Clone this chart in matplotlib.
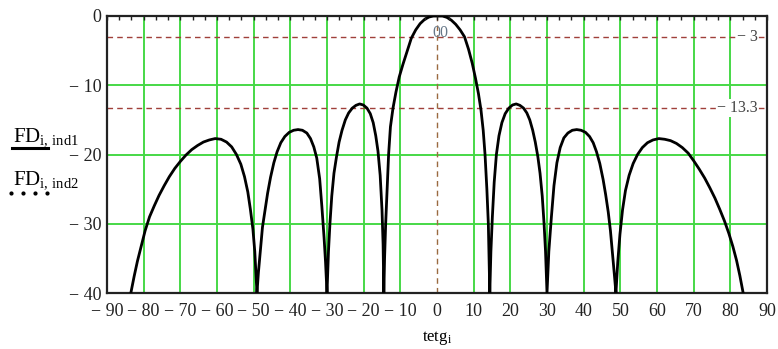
import matplotlib
matplotlib.use("Agg")
import matplotlib.pyplot as plt
import numpy as np

plt.rcParams['font.family'] = ['Liberation Serif', 'DejaVu Serif']
plt.rcParams['mathtext.fontset'] = 'custom'
plt.rcParams['mathtext.rm'] = 'Liberation Serif'
plt.rcParams['mathtext.it'] = 'Liberation Serif'

# pattern, lobe by lobe (angle in deg, level in dB)
tetg = [-83.5, -82.6, -81.7, -80.7, -79.6, -78.4, -77.1, -75.8, -74.4, -73.0,
        -71.5, -70.0, -68.5, -66.9, -65.3, -63.7, -62.1, -60.5, -58.9, -57.4,
        -56.0, -54.7, -53.5, -52.5, -51.6, -50.9, -50.2, -49.7, -49.1,
        -48.7, -48.2, -47.6, -46.9, -46.2, -45.4, -44.5, -43.6, -42.6, -41.5,
        -40.3, -39.1, -37.9, -36.7, -35.5, -34.5, -33.6, -32.8, -32.0, -31.4,
        -30.8, -30.4, -30.0,
        -29.6, -29.2, -28.7, -28.1, -27.4, -26.7, -25.9, -25.0, -24.1, -23.1,
        -22.1, -21.1, -20.1, -19.1, -18.2, -17.4, -16.7, -16.1, -15.5, -15.0,
        -14.7, -14.5,
        -14.3, -14.0, -13.6, -13.2, -12.7, -12.0, -11.2, -10.3, -9.3, -8.2,
        -7.0, -5.8, -4.6, -3.4, -2.2, -1.0, 0.3, 1.5, 2.7, 3.9,
        5.1, 6.3, 7.5, 8.6, 9.6, 10.5, 11.3, 12.0, 12.6, 13.1,
        13.6, 14.0, 14.2, 14.4,
        14.7, 15.1, 15.6, 16.2, 16.9, 17.7, 18.6, 19.6, 20.6, 21.6,
        22.6, 23.6, 24.5, 25.3, 26.1, 26.8, 27.5, 28.1, 28.7, 29.2,
        29.6, 30.0,
        30.5, 31.2, 31.9, 32.7, 33.6, 34.6, 35.7, 36.9, 38.1, 39.3,
        40.5, 41.6, 42.6, 43.5, 44.4, 45.3, 46.0, 46.7, 47.3, 47.9,
        48.4, 48.8,
        49.3, 49.9, 50.6, 51.4, 52.4, 53.5, 54.7, 56.0, 57.4, 58.9,
        60.5, 62.1, 63.7, 65.3, 66.9, 68.5, 70.0, 71.5, 73.0, 74.4,
        75.8, 77.1, 78.4, 79.6, 80.7, 81.7, 82.6, 83.5]
fd1 = [-40, -37.6, -35.4, -33.3, -31.0, -29.0, -27.4, -25.9, -24.5, -23.2,
       -22.0, -21.0, -20.1, -19.3, -18.7, -18.2, -17.9, -17.7, -17.8, -18.2,
       -18.9, -20.0, -21.4, -23.2, -25.4, -27.9, -30.8, -34.0, -40,
       -37.0, -34.0, -30.5, -28.0, -25.6, -23.3, -21.2, -19.6, -18.3, -17.4,
       -16.8, -16.5, -16.4, -16.5, -16.9, -17.7, -18.9, -20.5, -23.5, -27.5,
       -32.0, -35.5, -40,
       -34.0, -30.0, -26.0, -22.7, -20.3, -18.2, -16.5, -15.0, -14.0, -13.3,
       -12.9, -12.7, -12.85, -13.3, -14.1, -15.4, -17.3, -19.5, -23.0, -28.0,
       -33.0, -40,
       -35.0, -30.0, -25.0, -20.0, -16.0, -13.3, -11.0, -8.8, -7.0, -5.2,
       -3.2, -2.0, -1.1, -0.5, -0.15, 0.0, 0.0, 0.0, -0.2, -0.6,
       -1.2, -2.0, -3.0, -4.8, -6.8, -9.0, -11.2, -13.6, -16.5, -20.0,
       -25.0, -30.0, -35.0, -40,
       -34.0, -29.0, -24.0, -20.0, -17.3, -15.4, -14.1, -13.3, -12.85, -12.7,
       -12.9, -13.3, -14.0, -15.0, -16.5, -18.2, -20.3, -22.7, -26.0, -30.0,
       -34.0, -40,
       -34.0, -29.0, -24.5, -21.2, -19.0, -17.6, -16.9, -16.5, -16.4, -16.5,
       -16.8, -17.4, -18.3, -19.6, -21.3, -23.6, -25.8, -28.3, -31.0, -34.5,
       -37.5, -40,
       -35.5, -31.5, -28.0, -25.2, -23.0, -21.3, -20.0, -19.0, -18.3, -17.9,
       -17.7, -17.8, -18.0, -18.4, -19.0, -19.8, -20.9, -22.1, -23.4, -24.8,
       -26.3, -27.9, -29.6, -31.4, -33.3, -35.3, -37.5, -40]

x_ticks = [-90, -80, -70, -60, -50, -40, -30, -20, -10, 0, 10, 20, 30, 40, 50, 60, 70, 80, 90]
x_labels = ["− 90", "− 80", "− 70", "− 60", "− 50", "− 40", "− 30", "− 20", "− 10",
            "0", "10", "20", "30", "40", "50", "60", "70", "80", "90"]
y_ticks = [0, -10, -20, -30, -40]
y_labels = ["0", "− 10", "− 20", "− 30", "− 40"]
h_markers = [-3, -13.3]
h_marker_labels = ["− 3", "− 13.3"]
v_marker = 0

W, H = 778, 349
fig = plt.figure(figsize=(W / 100, H / 100), dpi=100)
ax = fig.add_axes([107 / W, 1 - 293 / H, 660 / W, 277 / H])

grid_c = '#46d846'
for xv in x_ticks[1:-1]:
    if xv != v_marker:
        ax.axvline(xv, color=grid_c, lw=1.4, zorder=1)
for yv in y_ticks[1:-1]:
    ax.axhline(yv, color=grid_c, lw=1.4, zorder=1)

for yv, lab in zip(h_markers, h_marker_labels):
    ax.axhline(yv, color='#a0403a', lw=1.0, ls=(0, (4, 3)), zorder=2)
    ax.text(87.5, yv, lab, ha='right', va='center', fontsize=11.5, color='#444444',
            bbox=dict(facecolor='white', edgecolor='none', pad=0.5), zorder=3)
ax.axvline(v_marker, color='#9a6a40', lw=1.0, ls=(0, (4, 3)), zorder=2)
ax.text(v_marker + 0.8, -2.4, "00", ha='center', va='center', fontsize=11.5,
        color='#667788', zorder=3)

ax.plot(tetg, fd1, color='black', lw=2.0, zorder=4, solid_joinstyle='round')

ax.set_xlim(-90, 90)
ax.set_ylim(-40, 0)
ax.set_xticks(x_ticks)
ax.set_xticklabels(x_labels)
ax.set_yticks(y_ticks)
ax.set_yticklabels(y_labels)
ax.tick_params(axis='both', length=0, labelsize=13, pad=7, colors='#222222')
ax.tick_params(axis='y', pad=4)
for s in ax.spines.values():
    s.set_linewidth(1.6)
    s.set_color('#222222')

# small ticks along the top edge
top_ticks = [v for v in np.arange(-90, 90.01, 10 / 3)]
ax.plot(top_ticks, [-0.35] * len(top_ticks), ls='none', marker='|', ms=3,
        color='#222222', zorder=5, clip_on=False)

ax.set_xlabel("tetg$_{\\mathrm{i}}$", fontsize=12, labelpad=7)

# legend on the left
fig.text(13 / W, 1 - 141 / H, "FD$_{\\mathrm{i,\\,ind1}}$", fontsize=15, ha='left', va='baseline')
fig.lines.append(plt.Line2D([12 / W, 48 / W], [1 - 148 / H, 1 - 148 / H],
                            transform=fig.transFigure, color='black', lw=2.2))
fig.text(13 / W, 1 - 184 / H, "FD$_{\\mathrm{i,\\,ind2}}$", fontsize=15, ha='left', va='baseline')
fig.lines.append(plt.Line2D([11 / W, 23 / W, 35 / W, 47 / W], [1 - 193 / H] * 4,
                            transform=fig.transFigure, color='black', ls='none',
                            marker='o', ms=2))

fig.savefig("out.png", dpi=100)
